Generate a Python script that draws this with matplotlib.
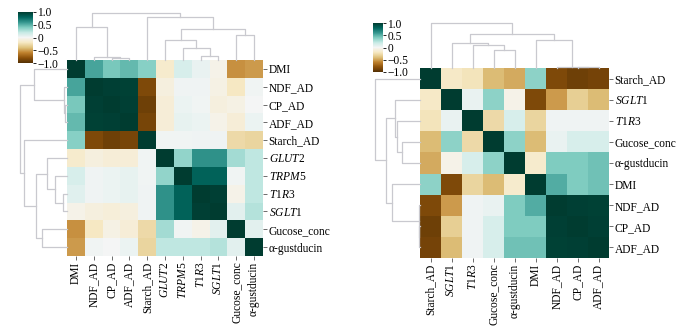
import matplotlib
matplotlib.use("Agg")
import matplotlib.pyplot as plt
import numpy as np

plt.rcParams.update({
    "font.family": ["Liberation Serif", "DejaVu Serif"],
    "mathtext.fontset": "custom",
    "mathtext.it": "Liberation Serif:italic",
    "mathtext.rm": "Liberation Serif",
    "font.size": 8.3,
})

# ---- left panel: 11 variables -------------------------------------------
left_labels = ["DMI", "NDF_AD", "CP_AD", "ADF_AD", "Starch_AD",
               r"$\it{GLUT}$2", r"$\it{TRPM}$5", r"$\it{T}$1$\it{R}$3",
               r"$\it{SGLT}$1", "Gucose_conc", "α-gustducin"]
left_corr = [
    [1.00, 0.55, 0.42, 0.47, 0.38, -0.16, 0.13, 0.05, -0.05, -0.55, -0.52],
    [0.55, 1.00, 0.98, 0.97, -0.85, -0.09, 0.03, 0.03, -0.07, -0.20, 0.02],
    [0.42, 0.98, 1.00, 0.98, -0.90, -0.12, 0.04, 0.02, -0.09, -0.07, 0.00],
    [0.47, 0.97, 0.98, 1.00, -0.87, -0.12, 0.06, 0.04, -0.05, -0.12, 0.04],
    [0.38, -0.85, -0.90, -0.87, 1.00, 0.02, 0.02, 0.03, 0.03, -0.28, -0.30],
    [-0.16, -0.09, -0.12, -0.12, 0.02, 1.00, 0.35, 0.62, 0.62, 0.30, 0.22],
    [0.13, 0.03, 0.04, 0.06, 0.02, 0.35, 1.00, 0.82, 0.82, 0.02, 0.22],
    [0.09, 0.03, 0.04, 0.06, 0.03, 0.62, 0.82, 1.00, 0.98, -0.05, 0.22],
    [-0.05, -0.09, -0.11, -0.09, 0.03, 0.62, 0.82, 0.98, 1.00, 0.08, 0.25],
    [-0.55, -0.20, -0.07, -0.12, -0.28, 0.30, 0.02, -0.05, 0.08, 1.00, 0.08],
    [-0.52, 0.02, 0.00, 0.04, -0.30, 0.22, 0.22, 0.22, 0.25, 0.08, 1.00],
]
# linkage rows: (cluster a, cluster b, merge height); new ids start at n
left_link = [
    (2, 3, 1.7), (1, 11, 2.7), (7, 8, 4.3), (6, 13, 12.3), (5, 14, 20.7),
    (9, 10, 25.7), (15, 16, 31.0), (0, 12, 33.3), (4, 17, 43.3), (18, 19, 47.7),
]

# ---- right panel: 9 variables -------------------------------------------
right_labels = ["Starch_AD", r"$\it{SGLT}$1", r"$\it{T}$1$\it{R}$3", "Gucose_conc",
                "α-gustducin", "DMI", "NDF_AD", "CP_AD", "ADF_AD"]
right_corr = [
    [1.00, -0.18, -0.22, -0.42, -0.47, 0.36, -0.85, -0.90, -0.88],
    [-0.18, 1.00, 0.05, 0.36, -0.05, -0.85, -0.52, -0.33, -0.42],
    [-0.22, 0.05, 1.00, -0.28, 0.13, -0.30, 0.03, 0.03, 0.03],
    [-0.42, 0.36, -0.28, 1.00, 0.36, -0.42, 0.05, 0.13, 0.13],
    [-0.47, -0.05, 0.13, 0.36, 1.00, -0.16, 0.40, 0.40, 0.44],
    [0.36, -0.85, -0.30, -0.42, -0.16, 1.00, 0.52, 0.40, 0.44],
    [-0.85, -0.52, 0.03, 0.05, 0.40, 0.52, 1.00, 0.98, 0.97],
    [-0.90, -0.33, 0.03, 0.13, 0.40, 0.40, 0.98, 1.00, 0.98],
    [-0.88, -0.42, 0.03, 0.13, 0.44, 0.44, 0.97, 0.98, 1.00],
]
right_link = [
    (7, 8, 0.7), (6, 9, 1.3), (3, 4, 18.0), (2, 11, 23.0), (1, 12, 25.3),
    (5, 10, 28.0), (13, 14, 33.7), (0, 15, 44.7),
]

cbar_ticks = [-1.0, -0.5, 0.0, 0.5, 1.0]
cbar_ticklabels = ["−1.0", "−0.5", "0", "0.5", "1.0"]

W, H = 700, 335
DENDRO_COLOR = "#c9c9cf"


def px_axes(fig, x0, y0, x1, y1):
    # pixel box (top-left origin) -> figure axes
    return fig.add_axes([x0 / W, 1 - y1 / H, (x1 - x0) / W, (y1 - y0) / H])


def draw_dendrogram(ax, links, n, orient):
    pos = {i: i + 0.5 for i in range(n)}
    hgt = {i: 0.0 for i in range(n)}
    for k, (a, b, h) in enumerate(links):
        pa, pb = pos[a], pos[b]
        xs = [pa, pa, pb, pb]
        ys = [hgt[a], h, h, hgt[b]]
        if orient == "top":
            ax.plot(xs, ys, color=DENDRO_COLOR, lw=0.9, clip_on=False)
        else:
            ax.plot(ys, xs, color=DENDRO_COLOR, lw=0.9, clip_on=False)
        pos[n + k] = (pa + pb) / 2
        hgt[n + k] = h
    top = max(h for _, _, h in links)
    if orient == "top":
        ax.set_xlim(0, n)
        ax.set_ylim(0, top)
    else:
        ax.set_ylim(n, 0)
        ax.set_xlim(top, 0)
    ax.set_axis_off()


def draw_panel(fig, labels, corr, links, heat_box, cbar_box, dendro_top):
    n = len(labels)
    x0, y0, x1, y1 = heat_box
    ax = px_axes(fig, x0, y0, x1, y1)
    mesh = ax.pcolormesh(np.array(corr), cmap="BrBG", vmin=-1, vmax=1)
    ax.set_xlim(0, n)
    ax.set_ylim(n, 0)
    ax.set_xticks(np.arange(n) + 0.5)
    ax.set_xticklabels(labels, rotation=90)
    ax.set_yticks(np.arange(n) + 0.5)
    ax.set_yticklabels(labels)
    ax.yaxis.tick_right()
    ax.tick_params(length=3, width=0.6, color="#555555", labelsize=8.3, pad=1)
    for s in ax.spines.values():
        s.set_visible(False)

    dendro_h = y0 - dendro_top
    col_ax = px_axes(fig, x0, dendro_top, x1, y0)
    draw_dendrogram(col_ax, links, n, "top")
    row_ax = px_axes(fig, x0 - dendro_h, y0, x0, y1)
    draw_dendrogram(row_ax, links, n, "left")

    cax = px_axes(fig, *cbar_box)
    cb = fig.colorbar(mesh, cax=cax, ticks=cbar_ticks)
    cb.set_ticklabels(cbar_ticklabels)
    cb.outline.set_linewidth(0)
    cax.tick_params(length=2, width=0.6, labelsize=8.3, pad=1)


fig = plt.figure(figsize=(W / 100, H / 100), dpi=100)
draw_panel(fig, left_labels, left_corr, left_link, (67, 60, 263, 256), (18, 12, 33, 63), 13)
draw_panel(fig, right_labels, right_corr, right_link, (420, 68, 609, 258), (373, 23, 383, 72), 23)
fig.savefig("out.png", dpi=100)
